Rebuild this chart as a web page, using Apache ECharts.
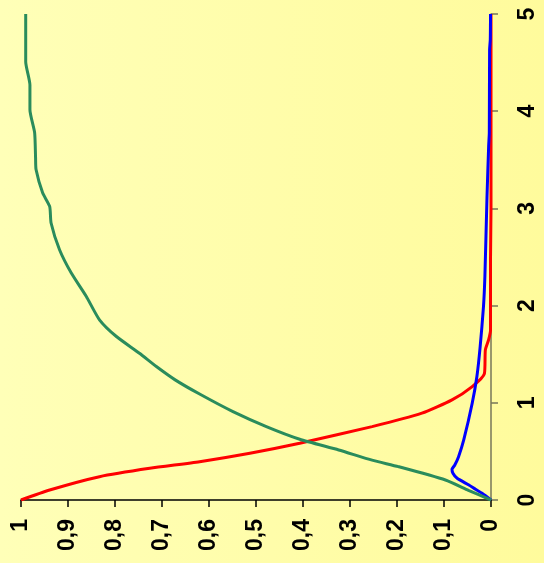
<!DOCTYPE html>
<html>
<head>
<meta charset="utf-8">
<script src="https://cdn.jsdelivr.net/npm/echarts@6/dist/echarts.min.js"></script>
<style>
html,body{margin:0;padding:0;}
#chart{width:544px;height:563px;}
</style>
</head>
<body>
<div id="chart"></div>
<script>
// time axis (right, vertical) and value axis (bottom, horizontal)
const timeTicks = [0, 1, 2, 3, 4, 5];
const valueTicks = [0, 0.1, 0.2, 0.3, 0.4, 0.5, 0.6, 0.7, 0.8, 0.9, 1];

const redT = [0, 0.103, 0.24, 0.326, 0.394, 0.481, 0.584, 0.755, 0.893, 1.03, 1.167, 1.30, 1.545, 1.65, 1.75, 2.5, 3, 4, 5];
const redV = [1, 0.939, 0.833, 0.726, 0.620, 0.513, 0.407, 0.253, 0.147, 0.083, 0.040, 0.014, 0.012, 0.005, 0.001, 0.001, 0, 0, 0];

const blueT = [0, 0.069, 0.11, 0.154, 0.223, 0.275, 0.316, 0.36, 0.446, 0.618, 0.996, 1.27, 1.58, 1.99, 2.30, 3.12, 3.64, 3.78, 4.63, 4.74, 5.0];
const blueV = [0, 0.019, 0.033, 0.047, 0.072, 0.081, 0.083, 0.077, 0.069, 0.058, 0.040, 0.030, 0.023, 0.016, 0.013, 0.0085, 0.005, 0.0036, 0.003, 0.0015, 0.001];

const greenT = [0, 0.1, 0.206, 0.343, 0.41, 0.515, 0.625, 0.755, 0.909, 1.09, 1.236, 1.373, 1.51, 1.682, 1.854, 2.094, 2.335, 2.575, 2.85, 3.02, 3.16, 3.40, 3.52, 3.78, 4.016, 4.27, 4.51, 5.0];
const greenV = [0, 0.048, 0.097, 0.197, 0.253, 0.324, 0.407, 0.478, 0.549, 0.620, 0.672, 0.712, 0.748, 0.797, 0.833, 0.861, 0.893, 0.918, 0.936, 0.939, 0.954, 0.968, 0.969, 0.971, 0.981, 0.981, 0.990, 0.990];

function pairs(vs, ts){ return vs.map((v,i)=>[v, ts[i]]); }

const labelFont = {fontFamily:'Liberation Sans, Arial, sans-serif', fontWeight:'bold', fontSize:23, color:'#000'};

const chart = echarts.init(document.getElementById('chart'), null, {renderer:'canvas'});
chart.setOption({
  animation:false,
  backgroundColor:{type:'linear', x:0, y:0, x2:1, y2:0, colorStops:[
    {offset:0, color:'#ffffb8'}, {offset:1, color:'#fffb9c'}]},
  grid:{left:21, right:53, top:14, bottom:63, containLabel:false},
  xAxis:{
    type:'value', min:valueTicks[0], max:valueTicks[valueTicks.length-1], interval:0.1,
    inverse:true, position:'bottom',
    splitLine:{show:false},
    axisLine:{show:true, lineStyle:{color:'#000', width:1.5}},
    axisTick:{show:true, length:7, lineStyle:{color:'#000', width:1.5}},
    axisLabel:Object.assign({rotate:90, margin:19,
      formatter:function(v){ return String(Math.round(v*10)/10).replace('.', ','); }}, labelFont)
  },
  yAxis:{
    type:'value', min:timeTicks[0], max:timeTicks[timeTicks.length-1], interval:1,
    position:'right',
    splitLine:{show:false},
    axisLine:{show:true, lineStyle:{color:'#77775a', width:1.5}},
    axisTick:{show:true, length:7, lineStyle:{color:'#77775a', width:1.5}},
    axisLabel:Object.assign({rotate:90, margin:25}, labelFont)
  },
  series:[
    {type:'line', data:pairs(redV, redT), showSymbol:false, smooth:0.2, lineStyle:{color:'#ff0000', width:3}, itemStyle:{color:'#ff0000'}},
    {type:'line', data:pairs(blueV, blueT), showSymbol:false, smooth:0.2, lineStyle:{color:'#0000ff', width:3}, itemStyle:{color:'#0000ff'}},
    {type:'line', data:pairs(greenV, greenT), showSymbol:false, smooth:0.2, lineStyle:{color:'#2a8c5c', width:3}, itemStyle:{color:'#2a8c5c'}}
  ]
});
</script>
</body>
</html>
